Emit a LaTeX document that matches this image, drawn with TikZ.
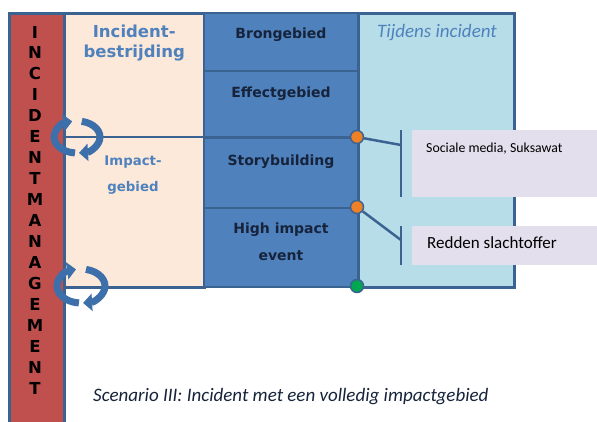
\documentclass[tikz,border=0pt]{standalone}
\usepackage{fontspec}
\setmainfont{Carlito}
\newfontfamily\wideface{DejaVu Sans}
\usetikzlibrary{positioning,arrows.meta}
\definecolor{barred}{HTML}{C0504D}
\definecolor{framecol}{HTML}{3B6391}
\definecolor{peach}{HTML}{FCE9D9}
\definecolor{cellblue}{HTML}{4F81BD}
\definecolor{lightcol}{HTML}{B7DEE8}
\definecolor{notepink}{HTML}{E4DFEC}
\definecolor{celltxt}{HTML}{16233A}
\definecolor{headblue}{HTML}{4F81BD}
\definecolor{dotorange}{HTML}{EE8025}
\definecolor{dotgreen}{HTML}{00A650}
\definecolor{cycblue}{HTML}{3D70AA}
\tikzstyle{region} = [draw=framecol, line width=2.5pt, inner sep=0pt, anchor=north west]
\tikzstyle{cell} = [region, fill=cellblue, line width=2pt, minimum width=154pt]
\tikzstyle{celltext} = [font=\wideface\bfseries\fontsize{14}{27}\selectfont, text=celltxt, align=center, inner sep=0pt]
\tikzstyle{headtext} = [font=\wideface\bfseries\fontsize{16.5}{20}\selectfont, text=headblue, align=center, inner sep=0pt]
\tikzstyle{note} = [fill=notepink, inner sep=0pt, anchor=north west, minimum width=200pt]
\tikzstyle{dot} = [circle, draw=framecol, line width=1.5pt, minimum size=13pt, inner sep=0pt]
\tikzstyle{line} = [draw=framecol, line width=2.5pt]
\tikzstyle{turn} = [draw=cycblue, line width=7pt, -{Triangle[width=17pt,length=9pt]}]
\tikzstyle{vletter} = [font=\wideface\bfseries\fontsize{16.5}{16.5}\selectfont, inner sep=0pt]

\begin{document}
\begin{tikzpicture}[x=1pt, y=-1pt]

\clip (0,0) rectangle (597,421);
\fill[white] (0,0) rectangle (597,421);

% left bar with vertical title
\node (redbar) [region, fill=barred, minimum width=55pt, minimum height=430pt] at (8,12) {};
\foreach \letter [count=\i] in {I,N,C,I,D,E,N,T,M,A,N,A,G,E,M,E,N,T}
  \node (letter\i) [vletter] at (35,{32+20.94*(\i-1)}) {\letter};

% columns
\node (bestr) [region, fill=peach, minimum width=140pt, minimum height=274pt] at (63,12) {};
\node (during) [region, fill=lightcol, minimum width=156pt, minimum height=274pt] at (357,12) {};

\node (cell1) [cell, minimum height=58pt] at (203,12) {};
\node (cell2) [cell, minimum height=67pt] at (203,70) {};
\node (cell3) [cell, minimum height=70pt] at (203,137) {};
\node (cell4) [cell, minimum height=79pt] at (203,207) {};

\node (bron) [celltext, below=15.4pt of cell1.north] {Brongebied};
\node (effect) [celltext, below=16.4pt of cell2.north] {Effectgebied};
\node (story) [celltext, below=17.4pt of cell3.north] {Storybuilding};
\node (event) [celltext, below=15.4pt of cell4.north] {High impact\\event};

\node (head1) [headtext, below=12.5pt of bestr.north] {Incident-\\bestrijding};
\node (head2) [headtext, font=\wideface\bfseries\fontsize{13.3}{26}\selectfont, anchor=north] at (133,156) {Impact-\\gebied};
\node (head3) [font=\fontsize{19}{19}\selectfont\itshape, text=headblue, inner sep=0pt, anchor=base] at (437,37) {Tijdens incident};

% notes
\node (note1) [note, minimum height=67pt] at (412,130) {};
\node (note2) [note, minimum height=39pt] at (412,226) {};
\node (media) [anchor=base west, inner sep=0pt, font=\fontsize{13.8}{13.8}\selectfont] at (426,152) {Sociale media, Suksawat};
\node (rescue) [anchor=base west, inner sep=0pt, font=\fontsize{17}{17}\selectfont] at (427,248) {Redden slachtoffer};

\coordinate (bar1a) at (401,130);
\coordinate (bar1b) at (401,197);
\coordinate (bar2a) at (401,226);
\coordinate (bar2b) at (401,265);
\coordinate (join1) at (401,145);
\coordinate (join2) at (401,240);
\path [line] (bar1a) -- (bar1b);
\path [line] (bar2a) -- (bar2b);

% split line and dots
\coordinate (split1) at (63,137);
\coordinate (split2) at (63,286);
\node (dot1) [dot, fill=dotorange] at (357,137) {};
\node (dot2) [dot, fill=dotorange] at (357,207) {};
\node (dot3) [dot, fill=dotgreen] at (357,286) {};
\path [line] (split1) -- (dot1);
\path [line] (dot1) -- (join1);
\path [line] (dot2) -- (join2);

% cycle arrows
\coordinate (cyc1) at (77,137);
\coordinate (cyc2) at (81,286);
\draw [turn] (cyc1) ++(95:23 and 16) arc[start angle=95, end angle=258, x radius=23, y radius=16];
\draw [turn] (cyc1) ++(282:23 and 16) arc[start angle=282, end angle=445, x radius=23, y radius=16];
\draw [turn] (cyc2) ++(95:24 and 17) arc[start angle=95, end angle=258, x radius=24, y radius=17];
\draw [turn] (cyc2) ++(282:24 and 17) arc[start angle=282, end angle=445, x radius=24, y radius=17];

\node (caption) [anchor=base west, inner sep=0pt, font=\fontsize{19}{19}\selectfont\itshape, text=celltxt] at (93,401) {Scenario III: Incident met een volledig impactgebied};

\end{tikzpicture}
\end{document}
